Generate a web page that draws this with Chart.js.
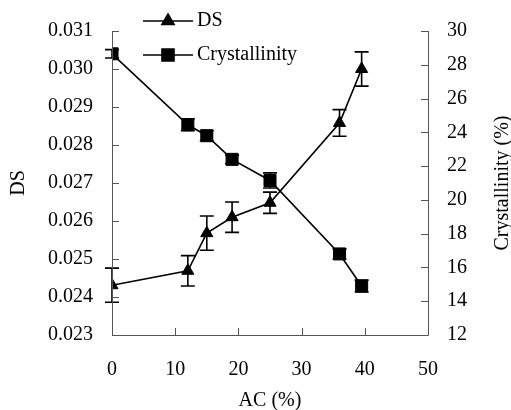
<!DOCTYPE html>
<html>
<head>
<meta charset="utf-8">
<script src="https://cdn.jsdelivr.net/npm/chart.js@4/dist/chart.umd.min.js"></script>
<style>
  body { margin: 0; background: #fff; }
  #wrap { width: 511px; height: 410px; }
</style>
</head>
<body>
<div id="wrap"><canvas id="lineChart" width="511" height="410"></canvas></div>
<script>
// values
const acValues = [0, 12, 15, 19, 25, 36, 39.5];
const dsValues = [0.02431, 0.02469, 0.02568, 0.02610, 0.02648, 0.02858, 0.03000];
const dsErrors = [0.00045, 0.00040, 0.00045, 0.00040, 0.00028, 0.00035, 0.00045];
const crystValues = [28.65, 24.45, 23.8, 22.4, 21.15, 16.8, 14.9];
const crystErrors = [0.25, 0.35, 0.3, 0.25, 0.45, 0.3, 0.35];

const xTicks = [0, 10, 20, 30, 40, 50];
const dsTicks = [0.023, 0.024, 0.025, 0.026, 0.027, 0.028, 0.029, 0.030, 0.031];
const crystTicks = [12, 14, 16, 18, 20, 22, 24, 26, 28, 30];

const FONT = 'Liberation Serif';
const FSIZE = 20;

function toPoints(xs, ys) {
    return xs.map((x, i) => ({ x: x, y: ys[i] }));
}

// error bars, inward tick marks, right title and the legend
const extras = {
    id: 'extras',
    afterDatasetsDraw(chart) {
        const ctx = chart.ctx;
        const xs = chart.scales.x;
        const area = chart.chartArea;
        ctx.save();
        ctx.strokeStyle = '#000';
        ctx.lineWidth = 1.6;

        function bars(vals, errs, scale) {
            vals.forEach((v, i) => {
                const px = xs.getPixelForValue(acValues[i]);
                const top = scale.getPixelForValue(v + errs[i]);
                const bot = scale.getPixelForValue(v - errs[i]);
                ctx.beginPath();
                ctx.moveTo(px, top); ctx.lineTo(px, bot);
                ctx.moveTo(px - 7, top); ctx.lineTo(px + 7, top);
                ctx.moveTo(px - 7, bot); ctx.lineTo(px + 7, bot);
                ctx.stroke();
            });
        }
        bars(dsValues, dsErrors, chart.scales.yDS);
        bars(crystValues, crystErrors, chart.scales.yCryst);

        // axes
        ctx.strokeStyle = '#555';
        ctx.lineWidth = 1;
        ctx.beginPath();
        ctx.moveTo(area.left + 0.5, area.top);
        ctx.lineTo(area.left + 0.5, area.bottom + 0.5);
        ctx.lineTo(area.right + 0.5, area.bottom + 0.5);
        ctx.lineTo(area.right + 0.5, area.top);
        xTicks.forEach(t => {
            const p = Math.round(xs.getPixelForValue(t)) + 0.5;
            ctx.moveTo(p, area.bottom); ctx.lineTo(p, area.bottom - 7);
        });
        dsTicks.forEach(t => {
            const p = Math.round(chart.scales.yDS.getPixelForValue(t)) + 0.5;
            ctx.moveTo(area.left, p); ctx.lineTo(area.left + 7, p);
        });
        crystTicks.forEach(t => {
            const p = Math.round(chart.scales.yCryst.getPixelForValue(t)) + 0.5;
            ctx.moveTo(area.right, p); ctx.lineTo(area.right - 7, p);
        });
        ctx.stroke();

        ctx.fillStyle = '#000';
        ctx.font = FSIZE + 'px "' + FONT + '"';
        ctx.textBaseline = 'middle';

        // right axis title, reading bottom to top
        ctx.save();
        ctx.translate(503, 183);
        ctx.rotate(-Math.PI / 2);
        ctx.textAlign = 'center';
        ctx.fillText('Crystallinity (%)', 0, 0);
        ctx.restore();

        // legend
        ctx.strokeStyle = '#000';
        ctx.lineWidth = 1.6;
        ctx.textAlign = 'left';
        const items = [['DS', 'triangle', 21], ['Crystallinity', 'rect', 55]];
        items.forEach(it => {
            ctx.beginPath();
            ctx.moveTo(143, it[2]); ctx.lineTo(193, it[2]);
            ctx.stroke();
            Chart.helpers.drawPoint(ctx, { pointStyle: it[1], radius: it[1] === 'rect' ? 8.5 : 7, rotation: 0, borderWidth: 1 }, 168, it[2]);
            ctx.fill();
            ctx.fillText(it[0], 197, it[2]);
        });
        ctx.restore();
    }
};

new Chart(document.getElementById('lineChart').getContext('2d'), {
    type: 'line',
    data: {
        datasets: [
            {
                label: 'DS',
                data: toPoints(acValues, dsValues),
                yAxisID: 'yDS',
                borderColor: '#000',
                backgroundColor: '#000',
                borderWidth: 1.6,
                pointStyle: 'triangle',
                pointRadius: 7,
                pointBorderWidth: 1,
                tension: 0
            },
            {
                label: 'Crystallinity',
                data: toPoints(acValues, crystValues),
                yAxisID: 'yCryst',
                borderColor: '#000',
                backgroundColor: '#000',
                borderWidth: 1.6,
                pointStyle: 'rect',
                pointRadius: 8.5,
                pointBorderWidth: 1,
                tension: 0
            }
        ]
    },
    options: {
        responsive: false,
        animation: false,
        layout: { padding: { top: 29, right: 0, left: 0, bottom: 0 } },
        plugins: {
            legend: { display: false },
            tooltip: { enabled: false }
        },
        scales: {
            x: {
                type: 'linear',
                min: 0, max: 50,
                afterFit(s) { s.height = 75; },
                afterBuildTicks(s) { s.ticks = xTicks.map(v => ({ value: v })); },
                grid: { display: false, drawTicks: false },
                border: { display: false },
                ticks: { color: '#000', font: { family: FONT, size: FSIZE }, padding: 23, maxRotation: 0 },
                title: { display: true, text: 'AC (%)', color: '#000', font: { family: FONT, size: FSIZE }, padding: { top: 0, bottom: -3 } }
            },
            yDS: {
                type: 'linear',
                position: 'left',
                min: 0.023, max: 0.031,
                afterFit(s) { s.width = 112; },
                afterBuildTicks(s) { s.ticks = dsTicks.map(v => ({ value: v })); },
                grid: { display: false, drawTicks: false },
                border: { display: false },
                ticks: { color: '#000', font: { family: FONT, size: FSIZE }, padding: 19, callback: v => v.toFixed(3) },
                title: { display: true, text: 'DS', color: '#000', font: { family: FONT, size: FSIZE }, padding: { top: 7 } }
            },
            yCryst: {
                type: 'linear',
                position: 'right',
                min: 12, max: 30,
                afterFit(s) { s.width = 83; },
                afterBuildTicks(s) { s.ticks = crystTicks.map(v => ({ value: v })); },
                grid: { display: false, drawTicks: false },
                border: { display: false },
                ticks: { color: '#000', font: { family: FONT, size: FSIZE }, padding: 19 },
                title: { display: false }
            }
        }
    },
    plugins: [extras]
});
</script>
</body>
</html>
